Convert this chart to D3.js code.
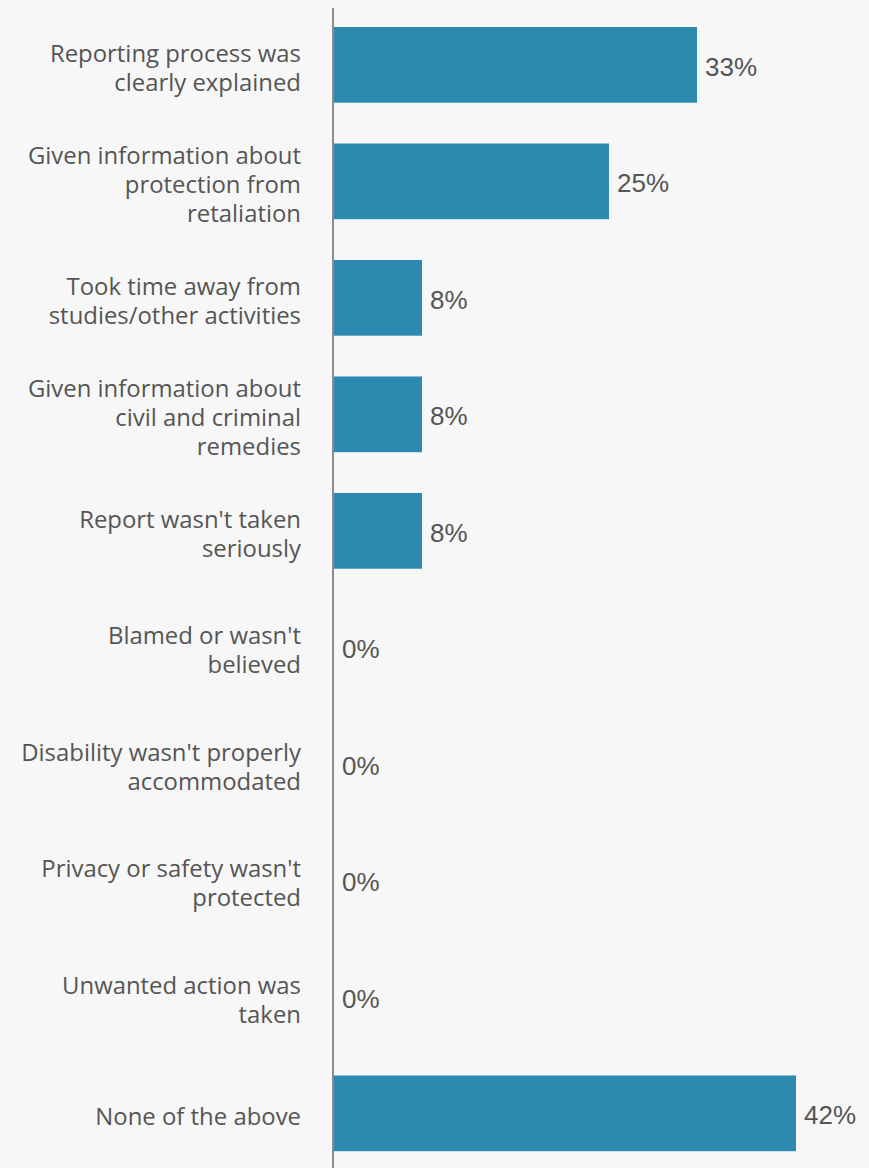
<!DOCTYPE html>
<html>
<head>
<meta charset="utf-8">
<script src="https://cdn.jsdelivr.net/npm/d3@7"></script>
<style>
  html, body { margin: 0; padding: 0; background: #f7f7f7; }
  svg { display: block; }
</style>
</head>
<body>
<svg id="chart" width="869" height="1168"></svg>
<script>
// Experiences after reporting (share of respondents)
const categories = [
  "Reporting process was\nclearly explained",
  "Given information about\nprotection from\nretaliation",
  "Took time away from\nstudies/other activities",
  "Given information about\ncivil and criminal\nremedies",
  "Report wasn't taken\nseriously",
  "Blamed or wasn't\nbelieved",
  "Disability wasn't properly\naccommodated",
  "Privacy or safety wasn't\nprotected",
  "Unwanted action was\ntaken",
  "None of the above"
];
const values = [33, 25, 8, 8, 8, 0, 0, 0, 0, 42];

const svg = d3.select("#chart");
const axisX = 334;

const y = d3.scaleBand()
  .domain(categories)
  .range([6.6, 6.6 + 116.5 * categories.length])
  .paddingInner(0.35)
  .paddingOuter(0.175);

const x = d3.scaleLinear()
  .domain([0, 42])
  .range([axisX, 796]);

const data = categories.map((c, i) => ({ cat: c, value: values[i] }));

// bars
svg.append("g").selectAll("rect")
  .data(data)
  .join("rect")
  .attr("x", x(0))
  .attr("y", d => y(d.cat))
  .attr("width", d => x(d.value) - x(0))
  .attr("height", y.bandwidth())
  .attr("fill", "#2e89b0");

// vertical axis line
svg.append("line")
  .attr("x1", axisX - 1).attr("x2", axisX - 1)
  .attr("y1", 8).attr("y2", 1168)
  .attr("stroke", "#8c8c8c")
  .attr("stroke-width", 2);

// category labels (multi-line, right aligned)
const lineH = 28.8;
const labels = svg.append("g").selectAll("text")
  .data(data)
  .join("text")
  .attr("text-anchor", "end")
  .attr("font-family", "'Open Sans', sans-serif")
  .attr("font-size", 23.9)
  .attr("fill", "#555555");

labels.each(function(d) {
  const lines = d.cat.split("\n");
  const cy = y(d.cat) + y.bandwidth() / 2 + 3;
  const top = cy - (lines.length - 1) * lineH / 2;
  d3.select(this).selectAll("tspan")
    .data(lines)
    .join("tspan")
    .attr("x", 301)
    .attr("y", (l, i) => top + i * lineH)
    .attr("dy", "0.35em")
    .text(l => l);
});

// value labels
svg.append("g").selectAll("text")
  .data(data)
  .join("text")
  .attr("x", d => x(d.value) + 8)
  .attr("y", d => y(d.cat) + y.bandwidth() / 2 + 2)
  .attr("dy", "0.35em")
  .attr("font-family", "'Liberation Sans', Arial, sans-serif")
  .attr("font-size", 26)
  .attr("fill", "#555555")
  .text(d => d.value + "%");
</script>
</body>
</html>
